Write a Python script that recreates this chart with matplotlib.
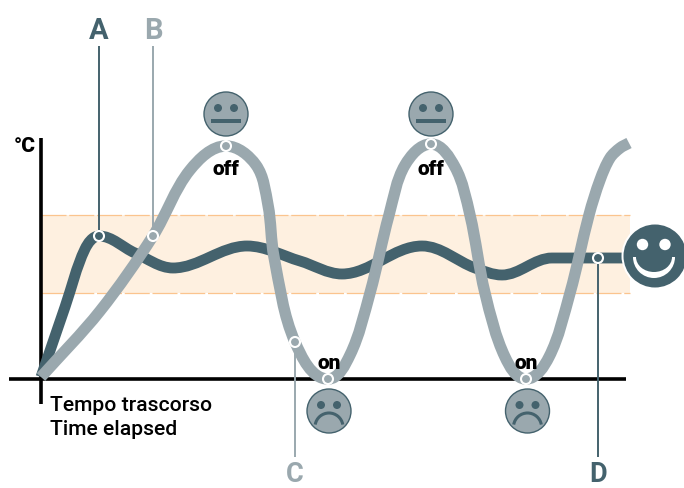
import numpy as np
import matplotlib
matplotlib.use("Agg")
import matplotlib.pyplot as plt
from matplotlib.path import Path
from matplotlib.patches import PathPatch, Circle, Arc, Rectangle, Wedge, Ellipse

DARK = "#44626d"
GREY = "#9aa8ae"
BAND = "#fef0e0"
BAND_EDGE = "#fbc48e"
HEAVY = ["Roboto", "DejaVu Sans"]
PLAIN = ["Roboto", "DejaVu Sans"]

# Readings in picture units: time runs rightward, temperature runs down the sheet
room_time = [41, 65, 85, 99, 135, 173, 247, 300, 342, 422, 475, 502, 552, 575, 628]
room_temp = [377, 307, 249, 236, 253, 268, 246, 261, 274, 246, 268, 275, 258, 258, 258]
heat_time = [41, 100, 153, 190, 226, 256, 268, 274, 295, 328, 350, 370, 389, 405, 431, 455, 470, 485, 505, 526, 549, 570, 589, 600, 610, 620, 629]
heat_temp = [377, 311, 236, 170, 146, 165, 205, 257, 342, 379, 355, 293, 215, 165, 144, 167, 215, 293, 357, 379, 357, 293, 215, 180, 158, 148, 143]

band_left, band_right, band_top, band_bottom = 41, 630, 215, 293
letters = ["A", "B", "C", "D"]
letter_x = [99, 153, 295, 598]
letter_y = [39, 39, 482, 482]
letter_size = [21, 21, 19.5, 19.5]
leader_top = [46, 46, 342, 258]
leader_bottom = [236, 236, 457, 457]
leader_colors = [DARK, GREY, GREY, DARK]
marker_x = [99, 153, 295, 598]
marker_y = [236, 236, 342, 258]
neutral_x = [226, 431]
neutral_y = [114, 114]
sad_x = [329, 527.5]
sad_y = [411, 411]
off_x = [226, 431]
off_y = [175, 175]
on_x = [329, 526]
on_y = [369, 369]
peak_x = [226, 431]
peak_y = [146, 144]
trough_x = [328, 526]
trough_y = [379, 379]


def spline(x, y):
    p = np.column_stack([x, y]).astype(float)
    n = len(p)
    t = np.zeros_like(p)
    for i in range(n):
        a, b = p[max(i - 1, 0)], p[min(i + 1, n - 1)]
        d = b - a
        if 0 < i < n - 1 and (p[i, 1] - a[1]) * (b[1] - p[i, 1]) <= 0:
            d = np.array([1.0, 0.0])
        t[i] = d / np.hypot(*d)
    v = [p[0]]
    c = [Path.MOVETO]
    for i in range(n - 1):
        h = np.hypot(*(p[i + 1] - p[i])) / 3
        v += [p[i] + t[i] * h, p[i + 1] - t[i + 1] * h, p[i + 1]]
        c += [Path.CURVE4] * 3
    return Path(np.array(v), c)


fig = plt.figure(figsize=(6.84, 4.88), dpi=100)
ax = fig.add_axes([0, 0, 1, 1])
ax.set_xlim(0, 684)
ax.set_ylim(488, 0)
ax.axis("off")

ax.add_patch(Rectangle((band_left, band_top), band_right - band_left, band_bottom - band_top, fc=BAND, ec="none", zorder=1))
for y in (band_top, band_bottom):
    ax.plot([band_left, band_right], [y, y], color=BAND_EDGE, lw=0.9, dashes=(20, 2.2), zorder=1.5)

ax.plot([41, 41], [138, 404], color="black", lw=2.6, solid_capstyle="butt", zorder=2)
ax.plot([9, 626], [378.5, 378.5], color="black", lw=2.6, solid_capstyle="butt", zorder=2)

for x, top, bottom, col in zip(letter_x, leader_top, leader_bottom, leader_colors):
    ax.plot([x, x], [top, bottom], color=col, lw=1.4, solid_capstyle="butt", zorder=2.5)

ax.add_patch(PathPatch(spline(room_time, room_temp), fc="none", ec=DARK, lw=7.8, capstyle="butt", joinstyle="round", zorder=3))
ax.add_patch(PathPatch(spline(heat_time, heat_temp), fc="none", ec=GREY, lw=8.2, capstyle="butt", joinstyle="round", zorder=4))

for x, y, col in zip(marker_x, marker_y, leader_colors):
    ax.add_patch(Circle((x, y), 5, fc=col, ec="white", lw=1.5, zorder=5))
for x, y in zip(peak_x + trough_x, peak_y + trough_y):
    ax.add_patch(Circle((x, y), 5, fc=GREY, ec="white", lw=1.5, zorder=5))


def face(x, y):
    ax.add_patch(Circle((x, y), 22, fc=GREY, ec=DARK, lw=1.0, zorder=5))
    for dx in (-8, 8):
        ax.add_patch(Circle((x + dx, y - 6), 4, fc=DARK, ec="none", zorder=6))


for x, y in zip(neutral_x, neutral_y):
    face(x, y)
    ax.add_patch(Rectangle((x - 15, y + 5), 30, 4, fc=DARK, ec="none", zorder=6))
for x, y in zip(sad_x, sad_y):
    face(x, y)
    ax.add_patch(Arc((x, y + 16), 28, 28, theta1=190, theta2=350, ec=DARK, lw=2.2, zorder=6))

# Smiley at the end of the room-temperature line
ax.add_patch(Circle((655, 256), 33.5, fc="white", ec="none", zorder=5))
ax.add_patch(Circle((655, 256), 31.5, fc=DARK, ec="none", zorder=6))
ax.add_patch(Wedge((654, 257), 21, 0, 180, fc="white", ec="none", zorder=7))
ax.add_patch(Ellipse((654, 257), 36, 30, fc=DARK, ec="none", zorder=7.5))
for dx in (-12.5, 10):
    ax.add_patch(Circle((655 + dx, 244.5), 5.7, fc="white", ec="none", zorder=8))

for s, x, y, col, size in zip(letters, letter_x, letter_y, leader_colors, letter_size):
    ax.text(x, y, s, color=col, family=HEAVY, weight="bold", fontsize=size, ha="center", va="baseline", zorder=9)
for x, y in zip(off_x, off_y):
    ax.text(x, y, "off", color="black", family=HEAVY, weight="black", fontsize=15, ha="center", va="baseline", zorder=9)
for x, y in zip(on_x, on_y):
    ax.text(x, y, "on", color="black", family=HEAVY, weight="black", fontsize=15, ha="center", va="baseline", zorder=9)
ax.text(25, 152, "°C", color="black", family=HEAVY, weight="black", fontsize=15, ha="center", va="baseline", zorder=9)
ax.text(50, 411, "Tempo trascorso", color="black", family=PLAIN, weight="medium", fontsize=15.2, ha="left", va="baseline", zorder=9)
ax.text(50, 435, "Time elapsed", color="black", family=PLAIN, weight="medium", fontsize=15.2, ha="left", va="baseline", zorder=9)

fig.savefig("out.png", dpi=100)
